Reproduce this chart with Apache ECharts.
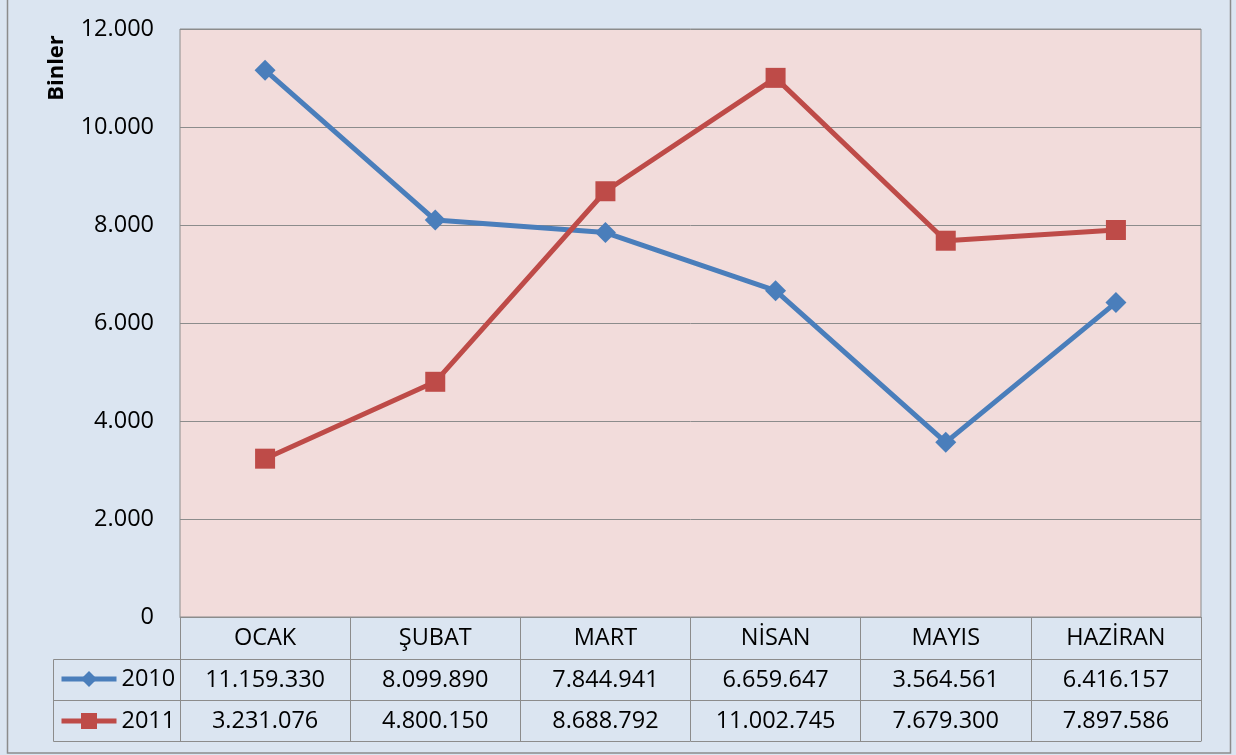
<!DOCTYPE html>
<html><head><meta charset="utf-8">
<script src="https://cdn.jsdelivr.net/npm/echarts@6/dist/echarts.min.js"></script>
<style>html,body{margin:0;padding:0;background:#DBE5F1;}#c{width:1236px;height:755px;}</style>
</head><body><div id="c"></div>
<script>
const categories = ['OCAK', 'ŞUBAT', 'MART', 'NİSAN', 'MAYIS', 'HAZİRAN'];
const seriesNames = ['2010', '2011'];
const values2010 = [11159330, 8099890, 7844941, 6659647, 3564561, 6416157];
const values2011 = [3231076, 4800150, 8688792, 11002745, 7679300, 7897586];
const yTicks = [0, 2000000, 4000000, 6000000, 8000000, 10000000, 12000000];
const yAxisTitle = 'Binler';

const FONT = 'Open Sans';
const FS = 23.5;
const GRAY = '#8C8C8C';
const BLUE = '#4A7EBB';
const RED = '#BE4B48';
const fmt = n => String(Math.round(n)).replace(/\B(?=(\d{3})+(?!\d))/g, '.');

const chart = echarts.init(document.getElementById('c'));
const rowAxis = (offset, tickLen, labels, showLabel) => ({
  type: 'category', position: 'bottom', offset: offset, data: categories,
  boundaryGap: true, gridIndex: 0,
  axisLine: { show: true, lineStyle: { color: GRAY, width: 1 } },
  axisTick: { show: tickLen > 0, length: tickLen, interval: 0, lineStyle: { color: GRAY, width: 1 } },
  axisLabel: { show: showLabel, interval: 0, margin: 21, verticalAlign: 'middle',
    fontFamily: FONT, fontSize: FS, color: '#000',
    formatter: (v, i) => labels ? labels[i] : v },
  splitLine: { show: false }
});
const legendText = { fontFamily: FONT, fontSize: FS, color: '#000' };

chart.setOption({
  animation: false,
  backgroundColor: '#DBE5F1',
  textStyle: { fontFamily: FONT },
  grid: { left: 180, top: 29, right: 35, bottom: 138, show: true,
    backgroundColor: '#F2DCDB', borderColor: GRAY, borderWidth: 1 },
  legend: [
    { data: [seriesNames[0]], left: 59, top: 667, padding: 0, itemWidth: 55, itemHeight: 20,
      selectedMode: false, textStyle: legendText, lineStyle: { width: 5 } },
    { data: [seriesNames[1]], left: 59, top: 709, padding: 0, itemWidth: 55, itemHeight: 20,
      selectedMode: false, textStyle: legendText, lineStyle: { width: 5 } }
  ],
  xAxis: [
    rowAxis(0, 42, null, true),
    rowAxis(42, 41, values2010.map(fmt), true),
    rowAxis(83, 41, values2011.map(fmt), true),
    rowAxis(124, 0, null, false)
  ],
  yAxis: {
    type: 'value', min: yTicks[0], max: yTicks[yTicks.length - 1], interval: yTicks[1] - yTicks[0],
    axisLine: { show: false }, axisTick: { show: false },
    axisLabel: { margin: 26, fontFamily: FONT, fontSize: FS, color: '#000',
      formatter: v => fmt(v / 1000) },
    splitLine: { show: true, lineStyle: { color: GRAY, width: 1 } }
  },
  series: [
    { name: seriesNames[0], type: 'line', xAxisIndex: 0, data: values2010,
      symbol: 'diamond', symbolSize: 21, showAllSymbol: true,
      lineStyle: { color: BLUE, width: 5 }, itemStyle: { color: BLUE } },
    { name: seriesNames[1], type: 'line', xAxisIndex: 0, data: values2011,
      symbol: 'rect', symbolSize: 20, showAllSymbol: true,
      lineStyle: { color: RED, width: 5 }, itemStyle: { color: RED } }
  ],
  graphic: [
    { type: 'rect', shape: { x: 7.5, y: -2, width: 1223, height: 755 }, silent: true,
      style: { fill: 'none', stroke: GRAY, lineWidth: 1.5 } },
    { type: 'polyline', shape: { points: [[180, 659.5], [53.5, 659.5], [53.5, 741.5], [180, 741.5]] },
      style: { fill: 'none', stroke: GRAY, lineWidth: 1 }, silent: true },
    { type: 'line', shape: { x1: 53.5, y1: 700.5, x2: 180, y2: 700.5 },
      style: { stroke: GRAY, lineWidth: 1 }, silent: true },
    { type: 'text', x: 57, y: 68, rotation: Math.PI / 2,
      style: { text: yAxisTitle, font: 'bold 22px "' + FONT + '"', fill: '#000',
        align: 'center', verticalAlign: 'middle' } }
  ]
});
</script></body></html>
